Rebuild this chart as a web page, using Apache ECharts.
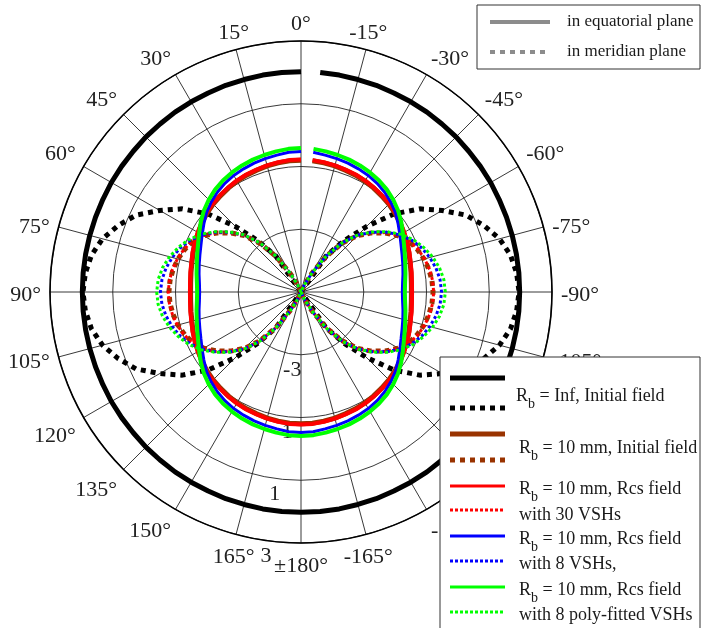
<!DOCTYPE html>
<html>
<head>
<meta charset="utf-8">
<script src="https://cdn.jsdelivr.net/npm/echarts@6/dist/echarts.min.js"></script>
<style>
html,body{margin:0;padding:0;background:#fff;}
#c{width:703px;height:628px;}
</style>
</head>
<body>
<div id="c"></div>
<script>
// angle samples (degrees, 0 at top, counter-clockwise)
const ANGLES = [0,5,10,15,20,25,30,35,40,45,50,55,60,65,70,75,80,85,90,
  95,100,105,110,115,120,125,130,135,140,145,150,155,160,165,170,175,180,
  185,190,195,200,205,210,215,220,225,230,235,240,245,250,255,260,265,270,
  275,280,285,290,295,300,305,310,315,320,325,330,335,340,345,350,355];

const R_TICKS = [-5, -3, -1, 1, 3];
const ANGLE_TICK_LABELS = ['0°','15°','30°','45°','60°','75°','90°','105°','120°','135°','150°','165°','±180°',
  '-165°','-150°','-135°','-120°','-105°','-90°','-75°','-60°','-45°','-30°','-15°'];

// values (dB), one per angle
const infEquatorial = [2.02,2.02,2.02,2.01,2.01,2.0,2.0,2.0,1.99,1.99,1.98,1.98,1.98,1.97,1.97,1.97,1.97,1.97,1.97,
  1.97,1.97,1.97,1.97,1.97,1.98,1.98,1.98,1.99,1.99,2.0,2.0,2.0,2.01,2.01,2.02,2.02,2.02,
  2.02,2.02,2.01,2.01,2.0,2.0,2.0,1.99,1.99,1.98,1.98,1.98,1.97,1.97,1.97,1.97,1.97,1.97,
  1.97,1.97,1.97,1.97,1.97,1.98,1.98,1.98,1.99,1.99,2.0,2.0,2.0,2.01,2.01,2.02,2.02];
const infMeridian = [-5,-5,-5,-5,-5,-5,-5,-3.6,-2.87,-2.05,-1.13,-0.38,0.2,0.8,1.2,1.55,1.78,1.9,1.95,
  1.9,1.78,1.55,1.2,0.8,0.2,-0.38,-1.13,-2.05,-2.87,-3.6,-5,-5,-5,-5,-5,-5,-5,
  -5,-5,-5,-5,-5,-5,-3.6,-2.87,-2.05,-1.13,-0.38,0.2,0.8,1.2,1.55,1.78,1.9,1.95,
  1.9,1.78,1.55,1.2,0.8,0.2,-0.38,-1.13,-2.05,-2.87,-3.6,-5,-5,-5,-5,-5,-5];
const initEquatorial = [-0.8,-0.8,-0.82,-0.84,-0.87,-0.89,-0.92,-0.96,-1.0,-1.04,-1.09,-1.15,-1.22,-1.28,-1.34,-1.4,-1.44,-1.47,-1.48,
  -1.47,-1.44,-1.4,-1.34,-1.28,-1.22,-1.15,-1.09,-1.04,-1.0,-0.96,-0.92,-0.89,-0.87,-0.84,-0.82,-0.8,-0.8,
  -0.8,-0.82,-0.84,-0.87,-0.89,-0.92,-0.96,-1.0,-1.04,-1.09,-1.15,-1.22,-1.28,-1.34,-1.4,-1.44,-1.47,-1.48,
  -1.47,-1.44,-1.4,-1.34,-1.28,-1.22,-1.15,-1.09,-1.04,-1.0,-0.96,-0.92,-0.89,-0.87,-0.84,-0.82,-0.8];
const initMeridian = [-5,-5,-5,-5,-5,-4.78,-4.32,-3.63,-2.98,-2.46,-2.07,-1.72,-1.42,-1.19,-1.05,-0.94,-0.86,-0.81,-0.79,
  -0.81,-0.86,-0.94,-1.05,-1.19,-1.42,-1.72,-2.07,-2.46,-2.98,-3.63,-4.32,-4.78,-5,-5,-5,-5,-5,
  -5,-5,-5,-5,-4.78,-4.32,-3.63,-2.98,-2.46,-2.07,-1.72,-1.42,-1.19,-1.05,-0.94,-0.86,-0.81,-0.79,
  -0.81,-0.86,-0.94,-1.05,-1.19,-1.42,-1.72,-2.07,-2.46,-2.98,-3.63,-4.32,-4.78,-5,-5,-5,-5];
const rcs30Equatorial = [-0.78,-0.78,-0.8,-0.82,-0.85,-0.87,-0.9,-0.94,-0.98,-1.02,-1.07,-1.13,-1.2,-1.26,-1.32,-1.38,-1.42,-1.45,-1.46,
  -1.45,-1.42,-1.38,-1.32,-1.26,-1.2,-1.13,-1.07,-1.02,-0.98,-0.94,-0.9,-0.87,-0.85,-0.82,-0.8,-0.78,-0.78,
  -0.78,-0.8,-0.82,-0.85,-0.87,-0.9,-0.94,-0.98,-1.02,-1.07,-1.13,-1.2,-1.26,-1.32,-1.38,-1.42,-1.45,-1.46,
  -1.45,-1.42,-1.38,-1.32,-1.26,-1.2,-1.13,-1.07,-1.02,-0.98,-0.94,-0.9,-0.87,-0.85,-0.82,-0.8,-0.78];
const rcs30Meridian = [-5,-5,-5,-5,-5,-4.75,-4.3,-3.62,-2.97,-2.45,-2.06,-1.7,-1.4,-1.17,-1.03,-0.92,-0.84,-0.79,-0.77,
  -0.79,-0.84,-0.92,-1.03,-1.17,-1.4,-1.7,-2.06,-2.45,-2.97,-3.62,-4.3,-4.75,-5,-5,-5,-5,-5,
  -5,-5,-5,-5,-4.75,-4.3,-3.62,-2.97,-2.45,-2.06,-1.7,-1.4,-1.17,-1.03,-0.92,-0.84,-0.79,-0.77,
  -0.79,-0.84,-0.92,-1.03,-1.17,-1.4,-1.7,-2.06,-2.45,-2.97,-3.62,-4.3,-4.75,-5,-5,-5,-5];
const rcs8Equatorial = [-0.52,-0.53,-0.57,-0.6,-0.63,-0.67,-0.71,-0.77,-0.85,-0.95,-1.07,-1.22,-1.36,-1.48,-1.57,-1.64,-1.7,-1.75,-1.77,
  -1.75,-1.7,-1.64,-1.57,-1.48,-1.36,-1.22,-1.07,-0.95,-0.85,-0.77,-0.71,-0.67,-0.63,-0.6,-0.57,-0.53,-0.52,
  -0.53,-0.57,-0.6,-0.63,-0.67,-0.71,-0.77,-0.85,-0.95,-1.07,-1.22,-1.36,-1.48,-1.57,-1.64,-1.7,-1.75,-1.77,
  -1.75,-1.7,-1.64,-1.57,-1.48,-1.36,-1.22,-1.07,-0.95,-0.85,-0.77,-0.71,-0.67,-0.63,-0.6,-0.57,-0.53];
const rcs8Meridian = [-5,-5,-5,-5,-5,-4.75,-4.3,-3.6,-2.95,-2.43,-2.04,-1.68,-1.36,-1.1,-0.9,-0.75,-0.63,-0.55,-0.52,
  -0.55,-0.63,-0.75,-0.9,-1.1,-1.36,-1.68,-2.04,-2.43,-2.95,-3.6,-4.3,-4.75,-5,-5,-5,-5,-5,
  -5,-5,-5,-5,-4.75,-4.3,-3.6,-2.95,-2.43,-2.04,-1.68,-1.36,-1.1,-0.9,-0.75,-0.63,-0.55,-0.52,
  -0.55,-0.63,-0.75,-0.9,-1.1,-1.36,-1.68,-2.04,-2.43,-2.95,-3.6,-4.3,-4.75,-5,-5,-5,-5];
const polyEquatorial = [-0.41,-0.42,-0.45,-0.48,-0.51,-0.55,-0.6,-0.66,-0.74,-0.84,-0.96,-1.1,-1.25,-1.38,-1.48,-1.56,-1.62,-1.67,-1.69,
  -1.67,-1.62,-1.56,-1.48,-1.38,-1.25,-1.1,-0.96,-0.84,-0.74,-0.66,-0.6,-0.55,-0.51,-0.48,-0.45,-0.42,-0.41,
  -0.42,-0.45,-0.48,-0.51,-0.55,-0.6,-0.66,-0.74,-0.84,-0.96,-1.1,-1.25,-1.38,-1.48,-1.56,-1.62,-1.67,-1.69,
  -1.67,-1.62,-1.56,-1.48,-1.38,-1.25,-1.1,-0.96,-0.84,-0.74,-0.66,-0.6,-0.55,-0.51,-0.48,-0.45,-0.42];
const polyMeridian = [-5,-5,-5,-5,-5,-4.75,-4.3,-3.6,-2.95,-2.42,-2.02,-1.65,-1.32,-1.05,-0.84,-0.66,-0.52,-0.43,-0.40,
  -0.43,-0.52,-0.66,-0.84,-1.05,-1.32,-1.65,-2.02,-2.42,-2.95,-3.6,-4.3,-4.75,-5,-5,-5,-5,-5,
  -5,-5,-5,-5,-4.75,-4.3,-3.6,-2.95,-2.42,-2.02,-1.65,-1.32,-1.05,-0.84,-0.66,-0.52,-0.43,-0.40,
  -0.43,-0.52,-0.66,-0.84,-1.05,-1.32,-1.65,-2.02,-2.42,-2.95,-3.6,-4.3,-4.75,-5,-5,-5,-5];

const R_MIN = R_TICKS[0];
const R_MAX = R_TICKS[R_TICKS.length - 1];
const R_STEP = R_TICKS[1] - R_TICKS[0];
const FONT = '"Liberation Serif", "Times New Roman", serif';

function toData(vals) {
  return vals.map((v, i) => [Math.max(v - R_MIN, 0), ANGLES[i]]);
}

const BROWN = '#993300';
const seriesDefs = [
  { name: 'infEq', vals: infEquatorial, color: '#000', width: 5, type: 'solid' },
  { name: 'infMer', vals: infMeridian, color: '#000', width: 5, type: [5, 5] },
  { name: 'initEq', vals: initEquatorial, color: BROWN, width: 5, type: 'solid' },
  { name: 'initMer', vals: initMeridian, color: BROWN, width: 5, type: [5, 4] },
  { name: 'rcs30Eq', vals: rcs30Equatorial, color: '#ff0000', width: 4, type: 'solid' },
  { name: 'rcs30Mer', vals: rcs30Meridian, color: '#ff0000', width: 3, type: [3, 2.5] },
  { name: 'rcs8Eq', vals: rcs8Equatorial, color: '#0000ff', width: 3, type: 'solid' },
  { name: 'rcs8Mer', vals: rcs8Meridian, color: '#0000ff', width: 3, type: [3, 2.5] },
  { name: 'polyEq', vals: polyEquatorial, color: '#00ff00', width: 4, type: 'solid' },
  { name: 'polyMer', vals: polyMeridian, color: '#00ff00', width: 3, type: [3, 2.5] }
];

const CX = 301, CY = 292, RAD = 251;

const series = seriesDefs.map((d, i) => ({
  name: d.name,
  type: 'line',
  coordinateSystem: 'polar',
  polarIndex: 0,
  data: toData(d.vals),
  showSymbol: false,
  symbol: 'none',
  smooth: false,
  clip: false,
  z: 3 + i,
  lineStyle: { color: d.color, width: d.width, type: d.type, cap: 'butt' }
}));

// legend graphics
const legendSolid = (x1, x2, y, color, w) => ({ type: 'line', shape: { x1, y1: y, x2, y2: y }, style: { stroke: color, lineWidth: w }, z: 101 });
const legendDash = (x1, x2, y, color, w, dash) => ({ type: 'line', shape: { x1, y1: y, x2, y2: y }, style: { stroke: color, lineWidth: w, lineDash: dash }, z: 101 });
const plainText = (x, y, t, size) => ({ type: 'text', x, y, z: 102, style: { text: t, fill: '#1a1a1a', font: size + 'px ' + FONT, verticalAlign: 'middle', align: 'left' } });
const subText = (x, y, rest) => ({
  type: 'text', x, y, z: 102,
  style: {
    text: '{a|R}{b|b}{a|' + rest + '}',
    verticalAlign: 'middle', align: 'left',
    rich: {
      a: { fontFamily: FONT, fontSize: 18, fill: '#1a1a1a', lineHeight: 20, verticalAlign: 'top' },
      b: { fontFamily: FONT, fontSize: 14, fill: '#1a1a1a', lineHeight: 16, padding: [10, 0, 0, 0], verticalAlign: 'top' }
    }
  }
});

const graphic = [
  { type: 'rect', shape: { x: 477, y: 5, width: 223, height: 64 }, style: { fill: '#fff', stroke: '#333', lineWidth: 1 }, z: 100 },
  legendSolid(490, 550, 22, '#8c8c8c', 4),
  plainText(567, 22, 'in equatorial plane', 17),
  legendDash(490, 550, 52, '#8c8c8c', 4, [5, 5]),
  plainText(567, 52, 'in meridian plane', 17),

  { type: 'rect', shape: { x: 440, y: 357, width: 260, height: 290 }, style: { fill: '#fff', stroke: '#333', lineWidth: 1 }, z: 100 },
  legendSolid(450, 505, 378, '#000', 5),
  legendDash(450, 505, 408, '#000', 5, [5, 5]),
  subText(516, 397, ' = Inf, Initial field'),
  legendSolid(450, 505, 434, BROWN, 5),
  legendDash(450, 505, 460, BROWN, 5, [5, 5]),
  subText(519, 449, ' = 10 mm, Initial field'),
  legendSolid(450, 505, 486, '#ff0000', 3),
  legendDash(450, 505, 510, '#ff0000', 3, [3, 2]),
  subText(519, 490, ' = 10 mm, Rcs field'),
  plainText(519, 515, 'with 30 VSHs', 18),
  legendSolid(450, 505, 536, '#0000ff', 3),
  legendDash(450, 505, 561, '#0000ff', 3, [3, 2]),
  subText(519, 540, ' = 10 mm, Rcs field'),
  plainText(519, 564, 'with 8 VSHs,', 18),
  legendSolid(450, 505, 587, '#00ff00', 3),
  legendDash(450, 505, 612, '#00ff00', 3, [3, 2]),
  subText(519, 591, ' = 10 mm, Rcs field'),
  plainText(519, 615, 'with 8 poly-fitted VSHs', 18)
];

const option = {
  animation: false,
  backgroundColor: '#fff',
  polar: [
    { center: [CX, CY], radius: RAD },       // data + grid
    { center: [CX, CY], radius: RAD },       // radius labels
    { center: [CX, CY + 3], radius: RAD }    // angle labels
  ],
  angleAxis: [
    {
      polarIndex: 0, type: 'value', min: 0, max: 360, interval: 15,
      startAngle: 90, clockwise: false,
      axisLine: { show: true, lineStyle: { color: '#000', width: 1.6 } },
      axisTick: { show: false },
      splitLine: { show: true, lineStyle: { color: '#222', width: 0.9 } },
      axisLabel: { show: false }
    },
    {
      polarIndex: 1, type: 'value', min: 0, max: 360, show: false,
      startAngle: 262, clockwise: false
    },
    {
      polarIndex: 2, type: 'value', min: 0, max: 360, interval: 15,
      startAngle: 90, clockwise: false,
      axisLine: { show: false }, axisTick: { show: false }, splitLine: { show: false },
      axisLabel: {
        show: true, margin: 9, color: '#222', fontSize: 22, fontFamily: FONT,
        formatter: v => ANGLE_TICK_LABELS[Math.round(v / 15) % 24]
      }
    }
  ],
  radiusAxis: [
    {
      polarIndex: 0, type: 'value', min: 0, max: R_MAX - R_MIN, interval: R_STEP,
      axisLine: { show: false }, axisTick: { show: false }, axisLabel: { show: false },
      splitLine: { show: true, lineStyle: { color: '#222', width: 0.9 } }
    },
    {
      polarIndex: 1, type: 'value', min: 0, max: R_MAX - R_MIN, interval: R_STEP,
      axisLine: { show: false }, axisTick: { show: false }, splitLine: { show: false },
      axisLabel: {
        show: true, margin: 0, color: '#222', fontSize: 22, fontFamily: FONT, lineHeight: 32,
        align: 'center', verticalAlign: 'top', showMaxLabel: true, showMinLabel: true,
        hideOverlap: false,
        formatter: v => (v === 0 ? '' : String(v + R_MIN))
      }
    },
    {
      polarIndex: 2, type: 'value', min: 0, max: R_MAX - R_MIN, interval: R_STEP, show: false
    }
  ],
  series,
  graphic
};

const chart = echarts.init(document.getElementById('c'), null, { renderer: 'canvas' });
chart.setOption(option);
</script>
</body>
</html>
